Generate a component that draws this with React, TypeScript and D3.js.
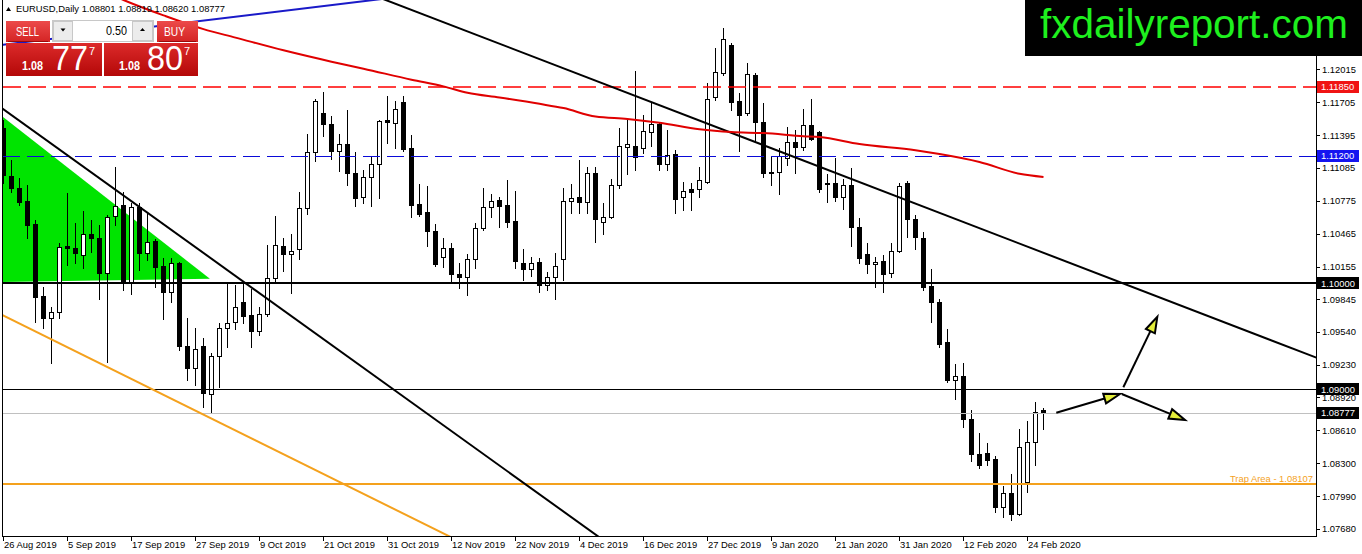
import React from "react";
import * as d3 from "d3";

// ---------- DATA ----------
const opens = [1.11462,1.11009,1.10896,1.10774,1.10557,1.09877,1.0967,1.09726,1.10349,1.1033,1.10264,1.10462,1.10425,1.10094,1.10632,1.10736,1.1,1.10717,1.10283,1.10396,1.1016,1.09915,1.10189,1.09406,1.09198,1.09406,1.08953,1.09311,1.09575,1.09632,1.09821,1.09698,1.09547,1.09708,1.10047,1.10349,1.10274,1.10321,1.10708,1.11236,1.11604,1.115,1.11245,1.11311,1.11038,1.10811,1.11,1.11123,1.11538,1.11509,1.11708,1.11274,1.10745,1.1067,1.10491,1.10245,1.1033,1.10085,1.10057,1.10226,1.10519,1.10717,1.10783,1.10736,1.10585,1.10189,1.10132,1.10198,1.09981,1.10057,1.10226,1.10774,1.10811,1.10764,1.11038,1.10575,1.10623,1.10925,1.11283,1.11292,1.11274,1.11425,1.115,1.11123,1.11217,1.10811,1.10887,1.10887,1.10953,1.11755,1.11981,1.12245,1.11717,1.11604,1.11962,1.11519,1.11047,1.11047,1.11179,1.1133,1.11283,1.11491,1.11425,1.10943,1.10943,1.10811,1.10925,1.10528,1.10274,1.10179,1.10208,1.10094,1.10302,1.10943,1.10604,1.10425,1.09972,1.09821,1.09443,1.09085,1.09123,1.08717,1.08387,1.08396,1.0834,1.07887,1.08019,1.07821,1.08123,1.085,1.08801];
const highs = [1.11538,1.1116,1.10991,1.10925,1.10594,1.09962,1.09774,1.10377,1.10849,1.10566,1.10679,1.10594,1.10547,1.10642,1.11094,1.10858,1.10755,1.10755,1.1067,1.10415,1.10236,1.10236,1.10198,1.0967,1.09575,1.09481,1.0934,1.09623,1.1,1.09981,1.1,1.09943,1.09774,1.10358,1.10632,1.10425,1.10462,1.10858,1.11406,1.11736,1.11802,1.11575,1.11406,1.11632,1.11236,1.11066,1.11189,1.11538,1.11764,1.11717,1.11764,1.11396,1.10934,1.10915,1.10557,1.10425,1.10377,1.10189,1.10274,1.10566,1.10896,1.1084,1.10811,1.10972,1.10868,1.10321,1.10245,1.10236,1.10104,1.10283,1.10896,1.10934,1.1116,1.11094,1.11094,1.10755,1.10981,1.11462,1.11538,1.12,1.11585,1.11708,1.11519,1.11443,1.11255,1.10953,1.10943,1.11094,1.11887,1.12217,1.12406,1.12264,1.11792,1.12075,1.11981,1.11698,1.11198,1.11274,1.11472,1.11443,1.11642,1.11736,1.11434,1.11028,1.11179,1.10981,1.11085,1.10613,1.10377,1.10245,1.10264,1.10377,1.10943,1.10962,1.10642,1.10481,1.10132,1.09849,1.09566,1.09236,1.09245,1.08802,1.08585,1.08491,1.08368,1.08085,1.08198,1.08623,1.08698,1.08877,1.08819];
const lows = [1.10943,1.10858,1.10736,1.10425,1.09632,1.09575,1.09245,1.0967,1.1017,1.10189,1.10142,1.10292,1.09849,1.09255,1.10547,1.09934,1.09896,1.10123,1.10217,1.09962,1.0966,1.09821,1.09368,1.09085,1.09038,1.0883,1.08783,1.09019,1.09396,1.09566,1.09623,1.09396,1.09509,1.09689,1.10009,1.10113,1.09906,1.10226,1.10651,1.11151,1.11387,1.1117,1.11057,1.10925,1.10726,1.10755,1.10726,1.10802,1.11321,1.11274,1.11245,1.10623,1.10632,1.10349,1.1016,1.10151,1.1,1.09953,1.09887,1.10142,1.105,1.10623,1.10528,1.10528,1.10142,1.10028,1.10066,1.09915,1.09934,1.09849,1.10028,1.1066,1.1066,1.1066,1.10387,1.10462,1.10613,1.10896,1.11028,1.11066,1.11226,1.11292,1.11066,1.11066,1.1066,1.10689,1.10689,1.10811,1.10943,1.11726,1.11962,1.11632,1.11245,1.11585,1.1133,1.11,1.10925,1.1084,1.11113,1.11038,1.11255,1.11349,1.10858,1.10764,1.10774,1.10698,1.10349,1.10189,1.10094,1.09962,1.09915,1.10057,1.10292,1.10434,1.10321,1.09934,1.09632,1.09396,1.09066,1.08906,1.08642,1.08321,1.08255,1.08283,1.0784,1.07792,1.07764,1.07811,1.08028,1.08283,1.0862];
const closes = [1.11019,1.10896,1.10764,1.10547,1.09868,1.0967,1.09726,1.1034,1.1033,1.10283,1.10462,1.10425,1.10094,1.10623,1.10726,1.1,1.10717,1.10283,1.10387,1.10151,1.09915,1.10189,1.09406,1.09198,1.09377,1.08962,1.09311,1.09575,1.09623,1.09774,1.09689,1.09547,1.09708,1.10047,1.10358,1.10274,1.10302,1.10708,1.11236,1.11717,1.115,1.11245,1.11311,1.11038,1.10802,1.11,1.11123,1.11528,1.11519,1.11642,1.11264,1.10736,1.10651,1.10491,1.10179,1.1033,1.10085,1.10057,1.10226,1.10519,1.10717,1.10774,1.10726,1.10575,1.10208,1.10132,1.10189,1.09981,1.10057,1.1016,1.10774,1.10802,1.10764,1.11038,1.10604,1.10623,1.10925,1.11292,1.11311,1.11189,1.11434,1.115,1.11123,1.11208,1.10792,1.10868,1.10858,1.10972,1.11736,1.11991,1.12302,1.11708,1.11585,1.11972,1.11519,1.11038,1.11038,1.11198,1.1133,1.11283,1.11491,1.11358,1.10887,1.10934,1.10811,1.10925,1.10528,1.10236,1.10179,1.10198,1.10085,1.10302,1.10915,1.10604,1.10434,1.09962,1.09821,1.09425,1.09085,1.09123,1.08717,1.08387,1.08283,1.0833,1.07887,1.08019,1.07821,1.08453,1.085,1.08783,1.08777];

// moving average (red) read at these bar indices
const maBars = [12,15,20,25,29,35,41,45,51,55,58,62,67,70,74,78,82,87,91,95,100,102,107,114,117,122,127,130];
const maValues = [1.1277,1.1267,1.12525,1.12395,1.12315,1.12195,1.12088,1.12022,1.11918,1.11855,1.11795,1.1175,1.1169,1.1165,1.1157,1.11548,1.11512,1.1145,1.11424,1.11414,1.11385,1.11377,1.11311,1.11252,1.11217,1.11142,1.1103,1.11];

const dateBars = [0,8,16,24,32,40,48,56,64,72,80,88,96,104,112,120,128];
const dateLabels = ["26 Aug 2019","5 Sep 2019","17 Sep 2019","27 Sep 2019","9 Oct 2019","21 Oct 2019","31 Oct 2019","12 Nov 2019","22 Nov 2019","4 Dec 2019","16 Dec 2019","27 Dec 2019","9 Jan 2020","21 Jan 2020","31 Jan 2020","12 Feb 2020","24 Feb 2020"];

const priceTicks = [1.12015,1.11705,1.11395,1.11085,1.10775,1.10465,1.10155,1.09845,1.0954,1.0923,1.0892,1.0861,1.083,1.0799,1.0768];

// horizontal levels
const levelPrices = [1.1185, 1.112, 1.1, 1.09, 1.08777, 1.08107];
const levelColors = ["#ff0000", "#0a0ad8", "#000000", "#000000", "#c0c0c0", "#f4a11d"];
const levelWidths = [1.5, 1, 2, 1, 1, 2];
const levelDash = ["18 7", "17 7", null, null, null, null];
const levelBoxColors = ["#f01414", "#1414f0", "#000000", "#000000", "#000000", null];

// trend lines [bar1, price1, bar2, price2]
const trendBlack1 = [-0.06, 1.11642, 73.56, 1.07651];
const trendBlack2 = [48.9, 1.12637, 164.06, 1.09297];
const trendOrange = [-0.02, 1.09692, 55.14, 1.07632];
const trendBlue = [24.56, 1.12472, 44.19, 1.12651];

// green triangle vertices [bar, price]
const triangle = [[-0.06, 1.11566], [25.8, 1.1004], [-0.06, 1.1001]];

// arrows [fromBar, fromPrice, toBar, toPrice]
const arrows = [
  [131.6, 1.08776, 139.56, 1.08953],
  [139.98, 1.09016, 144.23, 1.09682],
  [139.78, 1.08953, 147.69, 1.08708],
];

const bidPrice = 1.08777;
const askPrice = 1.08807;
const lotSize = "0.50";

const FONT = "Tahoma, 'Liberation Sans', Arial, sans-serif";

export default function App() {
  const plotLeft = 2.5, plotRight = 1316.5, plotBottom = 536.5;
  const x = d3.scaleLinear().domain([0, 130]).range([3.5, 1043.5]);
  const y = d3.scaleLinear().domain([1.09, 1.1]).range([389, 283]);
  const py = (p: number) => Math.round(y(p)) + 0.5;

  const extend = (t: number[]) => {
    const x1 = x(t[0]), y1 = y(t[1]), x2 = x(t[2]), y2 = y(t[3]);
    const dx = x2 - x1, dy = y2 - y1;
    return { x1: x1 - dx * 3, y1: y1 - dy * 3, x2: x2 + dx * 3, y2: y2 + dy * 3 };
  };

  const maLine = d3
    .line<number>()
    .x((d, i) => x(maBars[i]))
    .y((d) => y(d))
    .curve(d3.curveMonotoneX)(maValues) as string;

  const triPath = d3.line<number[]>().x((d) => x(d[0])).y((d) => y(d[1]))(triangle) + "Z";

  const b1 = extend(trendBlack1);
  const b2 = extend(trendBlack2);
  const orE = extend(trendOrange);
  const bl = extend(trendBlue);

  const bars = d3.range(opens.length);
  const last = opens.length - 1;
  const header = `EURUSD,Daily  ${opens[last].toFixed(5)} ${highs[last].toFixed(5)} ${lows[last].toFixed(5)} ${closes[last].toFixed(5)}`;

  const split = (p: number) => {
    const s = p.toFixed(5);
    return [s.slice(0, 4), s.slice(4, 6), s.slice(6)];
  };
  const [sellA, sellB, sellC] = split(bidPrice);
  const [buyA, buyB, buyC] = split(askPrice);

  const arrowEls = arrows.map((a, k) => {
    const x1 = x(a[0]), y1 = y(a[1]), x2 = x(a[2]), y2 = y(a[3]);
    const ang = Math.atan2(y2 - y1, x2 - x1);
    const L = 16, hw = 5;
    const bx = x2 - L * Math.cos(ang), by = y2 - L * Math.sin(ang);
    const nx = -Math.sin(ang), ny = Math.cos(ang);
    const pts = `${x2},${y2} ${bx + nx * hw},${by + ny * hw} ${bx - nx * hw},${by - ny * hw}`;
    return (
      <g key={k}>
        <line x1={x1} y1={y1} x2={bx} y2={by} stroke="#000" strokeWidth={2} />
        <polygon points={pts} fill="#e4ee3a" stroke="#000" strokeWidth={2} strokeLinejoin="miter" />
      </g>
    );
  });

  const levelY = (p: number, k: number) =>
    levelWidths[k] === 1 ? py(p) : Math.round(y(p));

  return (
    <svg
      width={1362}
      height={554}
      style={{ position: "absolute", left: 0, top: 0, background: "#fff" }}
      fontFamily={FONT}
    >
      <defs>
        <clipPath id="plot">
          <rect x={3} y={0} width={1313} height={536} />
        </clipPath>
        <linearGradient id="btnTop" x1="0" y1="0" x2="0" y2="1">
          <stop offset="0" stopColor="#ec4a4a" />
          <stop offset="1" stopColor="#d42424" />
        </linearGradient>
        <linearGradient id="btnPrice" x1="0" y1="0" x2="0" y2="1">
          <stop offset="0" stopColor="#dc2a2a" />
          <stop offset="1" stopColor="#b40808" />
        </linearGradient>
      </defs>
      <rect x={0} y={0} width={1362} height={554} fill="#fff" />

      <g clipPath="url(#plot)">
        <path d={triPath} fill="#00e400" stroke="none" />

        <g shapeRendering="crispEdges">
          {bars.map((i) => {
            const cx = x(i);
            const o = opens[i], c = closes[i];
            const top = Math.round(y(Math.max(o, c))) + 0.5;
            const bot = Math.round(y(Math.min(o, c))) + 0.5;
            const bull = c > o;
            return (
              <g key={i}>
                <line x1={cx} x2={cx} y1={Math.round(y(highs[i]))} y2={Math.round(y(lows[i])) + 1} stroke="#000" strokeWidth={1} />
                <rect
                  x={cx - 2}
                  y={top}
                  width={4}
                  height={Math.max(bot - top, 0)}
                  fill={bull ? "#fff" : "#000"}
                  stroke="#000"
                  strokeWidth={1}
                />
              </g>
            );
          })}
        </g>

        {levelPrices.map((p, k) => (
          <line
            key={k}
            x1={3}
            x2={1316}
            y1={levelY(p, k)}
            y2={levelY(p, k)}
            stroke={levelColors[k]}
            strokeWidth={levelWidths[k]}
            strokeDasharray={levelDash[k] ?? undefined}
          />
        ))}

        <line {...b1} stroke="#000" strokeWidth={2} />
        <line {...b2} stroke="#000" strokeWidth={2} />
        <line {...orE} stroke="#f4a11d" strokeWidth={2} />
        <line {...bl} stroke="#1a1ac8" strokeWidth={2} />

        <path d={maLine} fill="none" stroke="#e00000" strokeWidth={2} />

        {arrowEls}

        <text x={1313} y={482} textAnchor="end" fontSize={9.4} fill="#f4a11d">
          {`Trap Area - ${levelPrices[5].toFixed(5)}`}
        </text>
      </g>

      <g shapeRendering="crispEdges" stroke="#000" strokeWidth={1}>
        <line x1={plotLeft} x2={plotLeft} y1={0} y2={plotBottom} />
        <line x1={plotLeft} x2={plotRight} y1={plotBottom} y2={plotBottom} />
        <line x1={plotRight} x2={plotRight} y1={0} y2={plotBottom} />
      </g>

      {priceTicks.map((p) => (
        <g key={p}>
          <line x1={1316} x2={1320} y1={py(p)} y2={py(p)} stroke="#000" shapeRendering="crispEdges" />
          <text x={1322} y={y(p) + 3.5} fontSize={9.4} fill="#000">
            {p.toFixed(5)}
          </text>
        </g>
      ))}
      {levelPrices.map((p, k) =>
        levelBoxColors[k] ? (
          <g key={"b" + k}>
            <rect x={1317} y={Math.round(y(p)) - 6} width={42} height={12} fill={levelBoxColors[k] as string} />
            <text x={1321} y={y(p) + 3.5} fontSize={9.4} fill="#fff">
              {p.toFixed(5)}
            </text>
          </g>
        ) : null
      )}

      {dateBars.map((b, k) => (
        <g key={b}>
          <line x1={x(b)} x2={x(b)} y1={536} y2={541} stroke="#000" shapeRendering="crispEdges" />
          <text x={x(b) + 0.5} y={548} fontSize={9.4} fill="#000">
            {dateLabels[k]}
          </text>
        </g>
      ))}

      <polygon points="6,11 8.5,7 11,11" fill="#000" />
      <text x={16} y={12} fontSize={9.4} fill="#000">
        {header}
      </text>

      <g>
        <rect x={6} y={21} width={44} height={21} fill="url(#btnTop)" />
        <line x1={8} x2={48} y1={41.5} y2={41.5} stroke="#9a0a0a" />
        <text x={16} y={36} fontSize={13} fill="#fff" textLength={23} lengthAdjust="spacingAndGlyphs">SELL</text>

        <rect x={52.5} y={20.5} width={101} height={21} fill="#fff" stroke="#c8c8c8" />
        <rect x={53.5} y={21.5} width={19} height={19} fill="#ececec" stroke="#c8c8c8" />
        <rect x={132.5} y={21.5} width={20} height={19} fill="#ececec" stroke="#c8c8c8" />
        <polygon points="60.5,28.5 65.5,28.5 63,31.5" fill="#000" />
        <polygon points="140,31 145,31 142.5,28" fill="#000" />
        <text x={127} y={35} textAnchor="end" fontSize={13} fill="#000" textLength={21} lengthAdjust="spacingAndGlyphs">{lotSize}</text>

        <rect x={157} y={21} width={41} height={21} fill="url(#btnTop)" />
        <line x1={159} x2={196} y1={41.5} y2={41.5} stroke="#9a0a0a" />
        <text x={164} y={36} fontSize={13} fill="#fff" textLength={21} lengthAdjust="spacingAndGlyphs">BUY</text>

        <rect x={6} y={43} width={96} height={33} fill="url(#btnPrice)" />
        <rect x={104} y={43} width={94} height={33} fill="url(#btnPrice)" />

        <text x={22} y={70} fontSize={12} fontWeight="bold" fill="#fff" textLength={21} lengthAdjust="spacingAndGlyphs">{sellA}</text>
        <text x={52} y={70} fontSize={35} fill="#fff" textLength={36} lengthAdjust="spacingAndGlyphs">{sellB}</text>
        <text x={89} y={55} fontSize={11} fill="#fff">{sellC}</text>

        <text x={119} y={70} fontSize={12} fontWeight="bold" fill="#fff" textLength={21} lengthAdjust="spacingAndGlyphs">{buyA}</text>
        <text x={147} y={70} fontSize={35} fill="#fff" textLength={36} lengthAdjust="spacingAndGlyphs">{buyB}</text>
        <text x={184} y={55} fontSize={11} fill="#fff">{buyC}</text>
      </g>

      <rect x={1025} y={0} width={337} height={56} fill="#000" />
      <text x={1040} y={38} fontSize={40} fill="#1ef01e" fontFamily="'Liberation Sans', Arial, sans-serif" textLength={308} lengthAdjust="spacingAndGlyphs">
        fxdailyreport.com
      </text>
    </svg>
  );
}
